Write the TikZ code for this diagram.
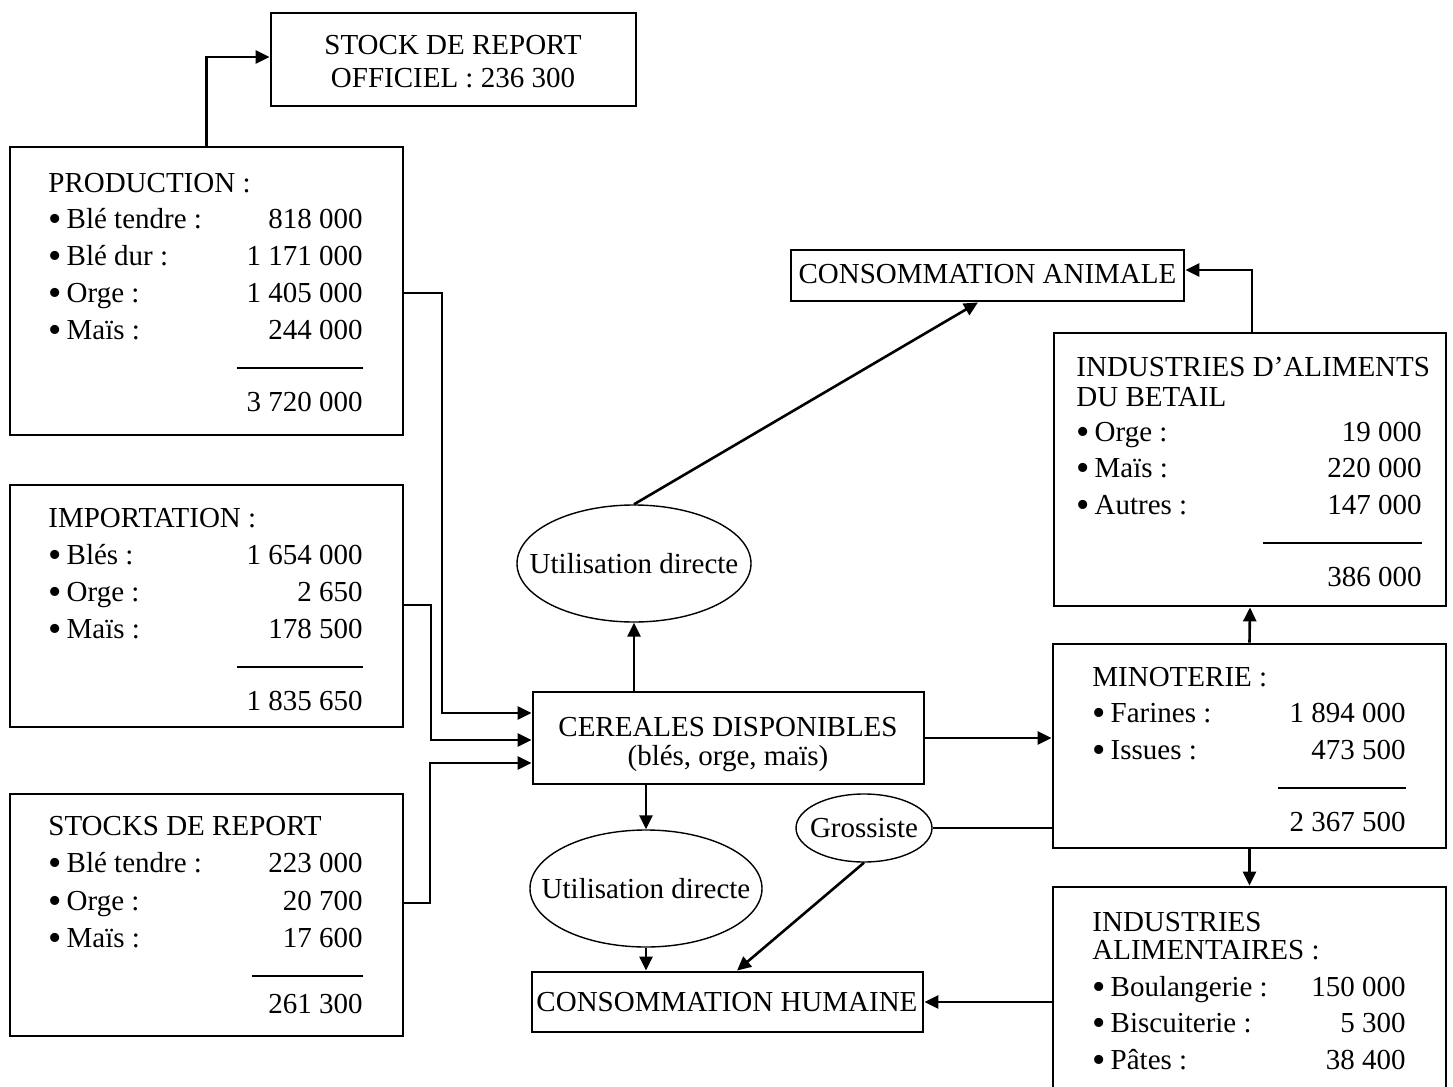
\documentclass[tikz,border=0pt]{standalone}
\usepackage{fontspec}
\setmainfont{Liberation Serif}
\usetikzlibrary{arrows.meta,shapes.geometric}
\tikzset{
  box/.style={draw, line width=1.4pt, rectangle, inner sep=0pt},
  ell/.style={draw, line width=0.7pt, ellipse, inner sep=0pt, font=\fontsize{14.5pt}{17pt}\selectfont},
  txt/.style={inner sep=0pt, font=\fontsize{14.5pt}{17pt}\selectfont},
  conn/.style={line width=1.3pt},
  arr/.style={conn, -{Triangle[length=7pt,width=6.5pt]}},
  sumrule/.style={line width=0.8pt},
}
\newcommand\bul{\raisebox{-1.6pt}{\fontsize{19pt}{19pt}\selectfont •}}
\newcommand\rowl[4]{\node[txt,anchor=base west] (#1) at (#2,#3) {#4};}
\newcommand\rowr[4]{\node[txt,anchor=base east] (#1) at (#2,#3) {#4};}
\newcommand\rowc[4]{\node[txt,anchor=base] (#1) at (#2,#3) {#4};}
\newcommand\entryrow[6]{\rowl{#1a}{#2}{#4}{\bul\hspace{2.5pt}#5}\rowr{#1b}{#3}{#4}{#6}}
\begin{document}
\begin{tikzpicture}[x=0.5pt,y=-0.5pt]
\fill[white] (0,0) rectangle (1453,1087);
\useasboundingbox (0,0) rectangle (1453,1087);

% ---------- boxes ----------
\node[box, minimum width=182.5pt, minimum height=46.5pt] (stock) at (453.5,59.5) {};
\node[box, minimum width=196.5pt, minimum height=144pt] (prod) at (206.5,291) {};
\node[box, minimum width=196.5pt, minimum height=121pt] (imp) at (206.5,606) {};
\node[box, minimum width=196.5pt, minimum height=121pt] (stk) at (206.5,915) {};
\node[box, minimum width=195.5pt, minimum height=46pt] (cer) at (728.5,738) {};
\node[box, minimum width=195.5pt, minimum height=30pt] (ch) at (727.5,1002) {};
\node[box, minimum width=196.5pt, minimum height=25.5pt] (ca) at (987.5,275.5) {};
\node[box, minimum width=196pt, minimum height=136.5pt] (ia) at (1250,469.5) {};
\node[box, minimum width=196.5pt, minimum height=102pt] (min) at (1249.5,746) {};
\node[box, minimum width=196.5pt, minimum height=111.5pt] (ial) at (1249.5,998.5) {};

% ---------- ellipses ----------
\node[ell, minimum width=117pt, minimum height=58.5pt] (u1) at (634,563.5) {\makebox[0pt]{Utilisation directe}};
\node[ell, minimum width=116pt, minimum height=58.5pt] (u2) at (646,888.5) {\makebox[0pt]{Utilisation directe}};
\node[ell, minimum width=68pt, minimum height=34pt] (gro) at (864,828) {\makebox[0pt]{Grossiste}};

% ---------- texts ----------
\rowc{stockA}{453}{54.5}{STOCK DE REPORT}
\rowc{stockB}{453}{87.5}{OFFICIEL : 236 300}

\rowl{prodT}{48}{192.5}{PRODUCTION :}
\entryrow{prodA}{48}{363}{228.5}{Blé tendre :}{818 000}
\entryrow{prodB}{48}{363}{265.5}{Blé dur :}{1 171 000}
\entryrow{prodC}{48}{363}{302.5}{Orge :}{1 405 000}
\entryrow{prodD}{48}{363}{339.5}{Maïs :}{244 000}
\draw[sumrule] (237,368) -- (363,368);
\rowr{prodS}{363}{411.5}{3 720 000}

\rowl{impT}{48}{527.5}{IMPORTATION :}
\entryrow{impA}{48}{363}{564.5}{Blés :}{1 654 000}
\entryrow{impB}{48}{363}{601.5}{Orge :}{2 650}
\entryrow{impC}{48}{363}{638.5}{Maïs :}{178 500}
\draw[sumrule] (237,667) -- (363,667);
\rowr{impS}{363}{710.5}{1 835 650}

\rowl{stkT}{48}{835.5}{STOCKS DE REPORT}
\entryrow{stkA}{48}{363}{872.5}{Blé tendre :}{223 000}
\entryrow{stkB}{48}{363}{910.5}{Orge :}{20 700}
\entryrow{stkC}{48}{363}{947.5}{Maïs :}{17 600}
\draw[sumrule] (252,976) -- (363,976);
\rowr{stkS}{363}{1013.5}{261 300}

\rowc{cerA}{728}{736.5}{CEREALES DISPONIBLES}
\rowc{cerB}{728}{765.5}{(blés, orge, maïs)}
\rowc{chA}{727}{1011.5}{CONSOMMATION HUMAINE}
\rowc{caA}{987.5}{283.5}{CONSOMMATION ANIMALE}

\rowl{iaT1}{1076}{376.5}{INDUSTRIES D’ALIMENTS}
\rowl{iaT2}{1076}{406.5}{DU BETAIL}
\entryrow{iaA}{1076}{1422}{441.5}{Orge :}{19 000}
\entryrow{iaB}{1076}{1422}{477.5}{Maïs :}{220 000}
\entryrow{iaC}{1076}{1422}{514.5}{Autres :}{147 000}
\draw[sumrule] (1263,543) -- (1422,543);
\rowr{iaS}{1422}{586.5}{386 000}

\rowl{minT}{1092}{686.5}{MINOTERIE :}
\entryrow{minA}{1092}{1406}{722.5}{Farines :}{1 894 000}
\entryrow{minB}{1092}{1406}{759.5}{Issues :}{473 500}
\draw[sumrule] (1278,788) -- (1406,788);
\rowr{minS}{1406}{831.5}{2 367 500}

\rowl{ialT1}{1092}{931.5}{INDUSTRIES}
\rowl{ialT2}{1092}{959.5}{ALIMENTAIRES :}
\entryrow{ialA}{1092}{1406}{996.5}{Boulangerie :}{150 000}
\entryrow{ialB}{1092}{1406}{1032.5}{Biscuiterie :}{5 300}
\entryrow{ialC}{1092}{1406}{1069.5}{Pâtes :}{38 400}

% ---------- connectors ----------
\draw[arr] (prod.north) |- (stock.west |- 0,57);
\draw[arr] (prod.east |- 0,293) -| (442,713) -- (cer.west |- 0,713);
\draw[arr] (imp.east |- 0,605) -| (431,740) -- (cer.west |- 0,740);
\draw[arr] (stk.east |- 0,903) -| (430,763) -- (cer.west |- 0,763);
\draw[arr] (cer.north -| u1.south) -- (u1.south);
\draw[arr] (u1.north) -- (ca.south -| 978,0);
\draw[arr] (ia.north -| 1252,0) |- (ca.east |- 0,270);
\draw[arr] (cer.east) -- (min.west |- cer.east);
\draw[arr] (min.north) -- (ia.south);
\draw[arr] (min.south) -- (ial.north);
\draw[conn] (gro.east) -- (min.west |- gro.east);
\draw[arr] (gro.south) -- (ch.north -| 737,0);
\draw[arr] (cer.south -| u2.north) -- (u2.north);
\draw[arr] (u2.south) -- (ch.north -| u2.south);
\draw[arr] (ial.west |- ch.east) -- (ch.east);
\end{tikzpicture}
\end{document}
